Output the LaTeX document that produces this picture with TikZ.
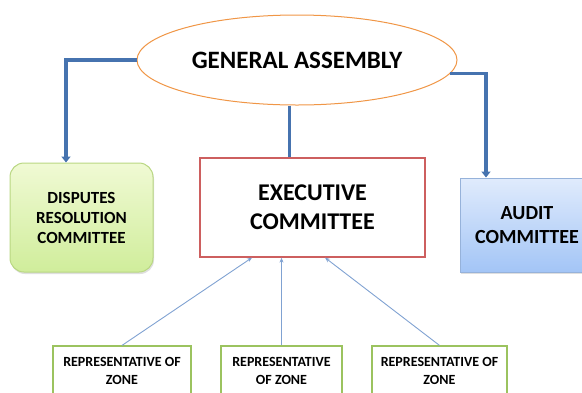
\documentclass[tikz,border=0pt]{standalone}
\usepackage{fontspec}
\setmainfont{Carlito}
\usetikzlibrary{arrows.meta,shapes.geometric,shadows}
\definecolor{linkBlue}{RGB}{70,115,175}
\definecolor{thinBlue}{RGB}{128,162,210}
\definecolor{ovalDraw}{RGB}{240,150,70}
\definecolor{execDraw}{RGB}{205,95,95}
\definecolor{zoneDraw}{RGB}{155,195,95}
\definecolor{disputeTop}{RGB}{240,250,212}
\definecolor{disputeBottom}{RGB}{208,237,155}
\definecolor{disputeDraw}{RGB}{185,215,130}
\definecolor{auditTop}{RGB}{224,235,252}
\definecolor{auditBottom}{RGB}{163,197,246}
\definecolor{auditDraw}{RGB}{150,178,218}

\begin{document}
\begin{tikzpicture}[
  x=1pt, y=-1pt,
  >=Latex,
  font=\bfseries,
  unit/.style={rectangle, align=center, text=black, inner sep=0pt},
  softshadow/.style={drop shadow={shadow xshift=1pt, shadow yshift=-2pt, opacity=0.25}},
  zone/.style={unit, draw=zoneDraw, line width=1.2pt, fill=white,
    minimum height=50pt, font=\fontsize{14}{18}\selectfont\bfseries},
  link/.style={draw=linkBlue, line width=3.5pt},
  linkarrow/.style={link, -{Triangle[length=6pt, width=9pt]}},
  feed/.style={draw=thinBlue, line width=0.9pt, -{Stealth[length=5pt, width=4pt]}}
]
\useasboundingbox (0,0) rectangle (582,392);

% Top body.
\node[ellipse, draw=ovalDraw, line width=1pt, fill=white, inner sep=0pt,
  minimum width=320pt, minimum height=90pt,
  font=\fontsize{25}{28}\selectfont\bfseries] (ga) at (297,60) {GENERAL ASSEMBLY};

% Committees.
\node[unit, draw=disputeDraw, line width=1pt, rounded corners=14pt,
  top color=disputeTop, bottom color=disputeBottom, softshadow,
  minimum width=143pt, minimum height=109pt,
  font=\fontsize{17}{20}\selectfont\bfseries] (drc) at (81.5,217.5)
  {DISPUTES\\RESOLUTION\\COMMITTEE};

\node[unit, draw=execDraw, line width=1.3pt, fill=white,
  minimum width=225pt, minimum height=99pt,
  font=\fontsize{24}{29}\selectfont\bfseries] (ex) at (312.5,207.5)
  {EXECUTIVE\\COMMITTEE};

\node[unit, draw=auditDraw, line width=1pt,
  top color=auditTop, bottom color=auditBottom, softshadow,
  minimum width=134pt, minimum height=94pt,
  font=\fontsize{20}{24}\selectfont\bfseries] (au) at (527,225)
  {AUDIT\\COMMITTEE};

% Zone representatives.
\node[zone, minimum width=138pt] (z1) at (122,371) {REPRESENTATIVE OF\\ZONE};
\node[zone, minimum width=121pt] (z2) at (281.5,371) {REPRESENTATIVE\\OF ZONE};
\node[zone, minimum width=135pt] (z3) at (439.5,371) {REPRESENTATIVE OF\\ZONE};

% Links from the assembly.
\draw[linkarrow] (ga.west) -| ([xshift=-15.5pt]drc.north);
\draw[linkarrow] (ga.-5) -| ([xshift=-41pt]au.north);
\draw[link, line width=3pt] ([xshift=-8pt]ga.south) -- ([xshift=-23.5pt]ex.north);

% Zones feeding the executive.
\draw[feed] (z1.north) -- ([xshift=-60.5pt]ex.south);
\draw[feed] (z2.north) -- ([xshift=-31pt]ex.south);
\draw[feed] (z3.north) -- ([xshift=12.5pt]ex.south);

\end{tikzpicture}
\end{document}
